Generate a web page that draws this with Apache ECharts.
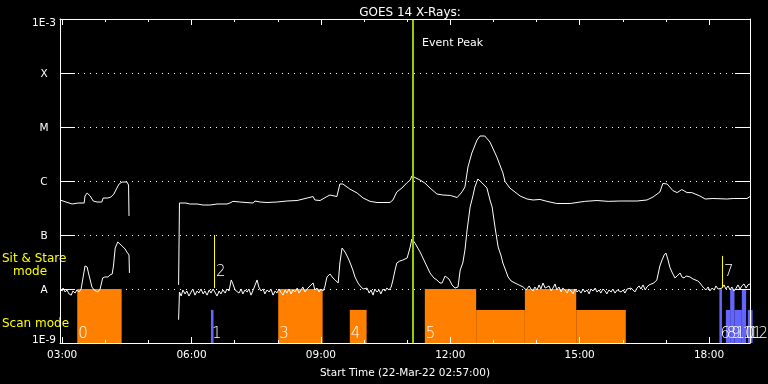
<!DOCTYPE html>
<html><head><meta charset="utf-8">
<script src="https://cdn.jsdelivr.net/npm/echarts@6/dist/echarts.min.js"></script>
<style>html,body{margin:0;padding:0;background:#000}#c{width:768px;height:384px}</style>
</head><body><div id="c"></div>
<script>
// Time axis in decimal hours of 22-Mar-22 (02:57 -> 18:57)
const T_START = 2.95, T_END = 18.95;
const Y_MIN = 1e-9, Y_MAX = 1e-3;
const majorHours = [3, 6, 9, 12, 15, 18];
const minorHours = [3,4,5,6,7,8,9,10,11,12,13,14,15,16,17,18];
const levelNames = {'-3':'1E-3','-4':'X','-5':'M','-6':'C','-7':'B','-8':'A','-9':'1E-9'};

// Long-wavelength channel [hour, flux W/m^2]; null = data gap
const longChannel = [
[2.95,4.45e-7],[3.09,4.08e-7],[3.23,3.75e-7],[3.37,3.91e-7],[3.51,3.91e-7],[3.53,5.27e-7],[3.58,5.99e-7],[3.65,5.27e-7],
[3.72,4.26e-7],[3.81,4.08e-7],[3.92,4.08e-7],[3.95,4.84e-7],[4.06,4.84e-7],[4.13,5.05e-7],[4.20,5.74e-7],[4.27,7.42e-7],
[4.32,8.80e-7],[4.39,9.58e-7],[4.50,9.58e-7],[4.54,8.43e-7],[4.55,2.25e-7],
[5.10,null],
[5.70,1.19e-8],[5.72,3.91e-7],[5.87,3.91e-7],[5.96,3.75e-7],[6.13,3.75e-7],[6.27,3.59e-7],[6.43,3.59e-7],[6.59,3.75e-7],
[6.82,3.75e-7],[6.89,3.91e-7],[6.96,4.2e-7],[7.12,4.08e-7],[7.43,3.91e-7],[7.47,4.26e-7],[7.59,4.08e-7],[7.75,4.0e-7],
[7.98,4.08e-7],[8.21,4.26e-7],[8.45,4.35e-7],[8.68,4.84e-7],[8.82,5.15e-7],[8.86,4.45e-7],[8.98,4.35e-7],[9.14,5.15e-7],
[9.21,5.5e-7],[9.37,5.15e-7],[9.44,8.8e-7],[9.51,8.8e-7],[9.67,7.1e-7],[9.84,5.99e-7],[9.98,4.84e-7],[10.14,4.2e-7],
[10.30,4.0e-7],[10.60,4.0e-7],[10.67,4.45e-7],[10.76,6.26e-7],[10.88,7.42e-7],[10.99,9.18e-7],[11.07,1.04e-6],[11.11,1.24e-6],
[11.30,1.04e-6],[11.41,9.18e-7],[11.53,7.42e-7],[11.69,5.74e-7],[11.83,5.5e-7],[12.00,5.4e-7],[12.16,4.95e-7],[12.27,6.26e-7],
[12.34,7.74e-7],[12.41,1.82e-6],[12.50,3.30e-6],[12.62,5.74e-6],[12.69,6.81e-6],[12.80,6.81e-6],[12.92,5.27e-6],[13.08,2.78e-6],
[13.22,1.41e-6],[13.27,9.8e-7],[13.38,7.42e-7],[13.62,5.27e-7],[13.78,4.64e-7],[13.92,4.45e-7],[14.08,4.55e-7],[14.24,4.2e-7],
[14.47,3.83e-7],[14.78,3.83e-7],[15.12,4.2e-7],[15.40,4.35e-7],[15.66,4.2e-7],[15.94,4.26e-7],[16.33,4.26e-7],[16.56,4.45e-7],
[16.70,5.05e-7],[16.86,6.26e-7],[16.93,9.0e-7],[17.03,8.8e-7],[17.16,6.65e-7],[17.26,6.1e-7],[17.37,6.95e-7],[17.49,6.1e-7],
[17.60,6.1e-7],[17.79,5.27e-7],[17.91,4.64e-7],[18.09,4.74e-7],[18.42,4.64e-7],[18.56,4.74e-7],[18.88,4.74e-7],[18.90,5.15e-7],
[18.95,5.15e-7]
];

// Short-wavelength channel [hour, flux W/m^2]; null = data gap
const shortChannel = [
[2.95,1.0e-8],[3.00,9.2e-9],[3.02,1.04e-8],[3.07,8.8e-9],[3.11,9.6e-9],[3.16,8.1e-9],[3.21,7.7e-9],[3.25,9.2e-9],[3.30,8.4e-9],
[3.34,9.6e-9],[3.39,8.8e-9],[3.44,1.0e-8],[3.48,9.6e-9],[3.53,2.67e-8],[3.58,2.55e-8],[3.61,1.98e-8],[3.65,1.47e-8],[3.69,1.09e-8],
[3.74,9.6e-9],[3.78,1.0e-8],[3.83,8.8e-9],[3.88,1.0e-8],[3.92,9.6e-9],[3.94,1.60e-8],[3.99,1.67e-8],[4.06,1.67e-8],[4.11,1.82e-8],
[4.16,1.90e-8],[4.19,2.67e-8],[4.23,5.74e-8],[4.29,7.42e-8],[4.34,6.81e-8],[4.39,6.26e-8],[4.46,5.50e-8],[4.50,4.84e-8],
[4.55,4.26e-8],[4.56,1.98e-8],
[5.10,null],
[5.70,2.7e-9],[5.72,8.8e-9],[5.76,7.4e-9],[5.80,9.6e-9],[5.85,8.1e-9],[5.89,9.2e-9],[5.94,7.4e-9],[5.99,8.8e-9],[6.03,1.0e-8],
[6.08,7.7e-9],[6.13,9.2e-9],[6.17,8.4e-9],[6.22,1.0e-8],[6.27,8.1e-9],[6.31,9.2e-9],[6.36,7.7e-9],[6.41,9.6e-9],[6.45,8.4e-9],
[6.50,1.0e-8],[6.54,8.8e-9],[6.59,7.4e-9],[6.64,9.2e-9],[6.68,8.1e-9],[6.73,9.6e-9],[6.78,8.4e-9],[6.82,1.0e-8],[6.87,9.2e-9],
[6.92,1.47e-8],[6.96,1.24e-8],[7.01,9.6e-9],[7.05,1.04e-8],[7.10,8.4e-9],[7.15,1.0e-8],[7.19,8.1e-9],[7.24,9.6e-9],[7.29,8.8e-9],
[7.33,1.0e-8],[7.38,7.7e-9],[7.43,9.6e-9],[7.47,9.2e-9],[7.52,1.47e-8],[7.56,1.09e-8],[7.61,9.2e-9],[7.66,1.0e-8],[7.70,8.1e-9],
[7.75,9.6e-9],[7.80,8.8e-9],[7.84,1.0e-8],[7.89,7.7e-9],[7.94,9.2e-9],[7.98,8.4e-9],[8.03,1.0e-8],[8.07,8.8e-9],[8.12,7.7e-9],
[8.17,9.6e-9],[8.21,8.4e-9],[8.26,1.0e-8],[8.31,8.1e-9],[8.35,9.6e-9],[8.40,8.8e-9],[8.45,1.04e-8],[8.49,8.4e-9],[8.54,9.6e-9],
[8.58,1.09e-8],[8.63,8.8e-9],[8.68,1.0e-8],[8.72,9.2e-9],[8.77,1.19e-8],[8.82,1.29e-8],[8.86,9.6e-9],[8.91,1.04e-8],[8.96,8.8e-9],
[9.00,1.0e-8],[9.05,9.2e-9],[9.09,1.09e-8],[9.14,1.67e-8],[9.21,1.90e-8],[9.28,1.60e-8],[9.33,1.47e-8],[9.40,1.29e-8],[9.44,3.03e-8],
[9.49,5.74e-8],[9.56,4.84e-8],[9.63,3.75e-8],[9.67,3.16e-8],[9.74,2.25e-8],[9.79,1.67e-8],[9.86,1.29e-8],[9.91,1.14e-8],[9.98,1.0e-8],
[10.02,9.2e-9],[10.07,1.04e-8],[10.12,8.4e-9],[10.16,9.6e-9],[10.21,7.7e-9],[10.25,1.0e-8],[10.30,8.8e-9],[10.35,9.6e-9],[10.39,8.1e-9],
[10.44,1.0e-8],[10.49,9.2e-9],[10.53,1.04e-8],[10.58,9.6e-9],[10.63,1.09e-8],[10.67,1.47e-8],[10.72,2.25e-8],[10.76,3.03e-8],
[10.83,3.30e-8],[10.90,3.44e-8],[11.00,3.75e-8],[11.07,5.99e-8],[11.11,8.43e-8],[11.18,7.10e-8],[11.30,4.84e-8],[11.41,3.16e-8],
[11.53,1.98e-8],[11.62,1.60e-8],[11.69,1.47e-8],[11.76,1.29e-8],[11.81,1.29e-8],[11.88,1.74e-8],[11.92,1.67e-8],[11.97,1.53e-8],
[12.04,1.19e-8],[12.11,1.04e-8],[12.18,1.09e-8],[12.23,2.25e-8],[12.29,3.03e-8],[12.34,5.27e-8],[12.39,1.24e-7],[12.46,3.30e-7],
[12.53,5.50e-7],[12.57,7.74e-7],[12.64,1.09e-6],[12.74,9.18e-7],[12.85,7.42e-7],[12.92,4.45e-7],[12.97,3.30e-7],[13.04,1.35e-7],
[13.11,5.99e-8],[13.18,4.08e-8],[13.22,3.03e-8],[13.29,2.15e-8],[13.34,1.67e-8],[13.41,1.41e-8],[13.50,1.29e-8],[13.59,1.19e-8],
[13.69,1.09e-8],[13.76,9.6e-9],[13.83,1.14e-8],[13.87,1.0e-8],[13.92,9.2e-9],[13.96,1.09e-8],[14.01,9.6e-9],[14.06,1.19e-8],
[14.10,1.0e-8],[14.15,1.29e-8],[14.20,1.04e-8],[14.24,9.6e-9],[14.29,1.14e-8],[14.34,9.2e-9],[14.38,1.04e-8],[14.43,1.24e-8],
[14.47,9.6e-9],[14.52,1.09e-8],[14.57,8.8e-9],[14.61,1.04e-8],[14.66,9.6e-9],[14.71,8.4e-9],[14.75,1.0e-8],[14.80,9.2e-9],
[14.85,8.1e-9],[14.89,1.0e-8],[14.94,8.8e-9],[14.98,9.6e-9],[15.03,8.4e-9],[15.08,1.0e-8],[15.12,8.8e-9],[15.17,9.6e-9],
[15.22,8.1e-9],[15.26,1.0e-8],[15.31,9.2e-9],[15.36,1.04e-8],[15.40,8.8e-9],[15.45,9.6e-9],[15.49,8.4e-9],[15.54,1.0e-8],
[15.59,9.2e-9],[15.63,8.1e-9],[15.68,9.6e-9],[15.73,8.8e-9],[15.77,1.0e-8],[15.82,8.4e-9],[15.87,9.6e-9],[15.91,1.04e-8],
[15.96,8.8e-9],[16.01,9.6e-9],[16.05,8.4e-9],[16.10,1.0e-8],[16.14,9.2e-9],[16.19,1.04e-8],[16.24,9.6e-9],[16.28,8.8e-9],
[16.33,1.04e-8],[16.38,1.14e-8],[16.42,1.0e-8],[16.47,1.19e-8],[16.52,9.6e-9],[16.56,1.09e-8],[16.61,1.19e-8],[16.65,1.29e-8],
[16.72,1.29e-8],[16.79,1.47e-8],[16.86,2.67e-8],[16.91,3.44e-8],[16.96,4.26e-8],[17.00,4.64e-8],[17.05,3.44e-8],[17.09,2.55e-8],
[17.14,2.06e-8],[17.21,1.60e-8],[17.26,1.74e-8],[17.33,1.98e-8],[17.37,1.67e-8],[17.42,1.60e-8],[17.47,1.74e-8],[17.51,1.82e-8],
[17.56,1.67e-8],[17.63,1.53e-8],[17.67,1.60e-8],[17.74,1.41e-8],[17.79,1.29e-8],[17.84,1.14e-8],[17.88,1.04e-8],[17.93,9.6e-9],
[17.98,1.09e-8],[18.02,9.2e-9],[18.07,1.04e-8],[18.12,9.6e-9],[18.16,1.14e-8],[18.21,1.0e-8],[18.25,9.2e-9],[18.30,1.04e-8],
[18.35,1.19e-8],[18.39,1.0e-8],[18.44,1.14e-8],[18.49,9.6e-9],[18.53,1.09e-8],[18.58,9.2e-9],[18.63,1.04e-8],[18.67,1.19e-8],
[18.72,1.0e-8],[18.76,1.14e-8],[18.81,1.24e-8],[18.86,1.04e-8],[18.90,1.19e-8],[18.95,1.24e-8]
];

// Observation blocks (start hour, end hour, top level) and their labels
const barStart = [3.35, 6.45, 8.01, 9.67, 11.41, 12.60, 13.73, 14.92, 18.24, 18.39, 18.49, 18.59, 18.76, 18.90];
const barEnd   = [4.38, 6.51, 9.04, 10.06, 12.60, 13.73, 14.92, 16.07, 18.30, 18.49, 18.59, 18.76, 18.86, 19.01];
const barTop   = [1e-8, 4.1e-9, 1e-8, 4.1e-9, 1e-8, 4.1e-9, 1e-8, 4.1e-9, 1e-8, 4.1e-9, 1e-8, 4.1e-9, 1e-8, 4.1e-9];
const barKind  = ['o','b','o','o','o','o','o','o','b','b','b','b','b','b'];
const barLabel = ['0','1','3','4','5','','','','6','8','9','10','11','12'];

// Yellow markers (hour, top level, bottom level, label)
const markTime   = [6.53, 18.31];
const markTop    = [1e-7, 4.1e-8];
const markBottom = [1.04e-8, 1.04e-8];
const markLabel  = ['2', '7'];

const eventTime = 11.11;

const FONT = 'DejaVu Sans';
const KIND_COLOR = {o: '#ff8000', b: '#6464ff'};
const fmtHour = v => (v < 10 ? '0' : '') + v + ':00';

const chart = echarts.init(document.getElementById('c'), null, {renderer: 'canvas'});

function xAx(pos, ticks, len, withLine, withLabel) {
  return {
    type: 'value', position: pos, min: T_START, max: T_END, z: 10,
    axisLine: {show: withLine, lineStyle: {color: '#fff', width: 1}},
    axisTick: {show: true, inside: true, length: len, customValues: ticks, lineStyle: {color: '#fff', width: 1}},
    axisLabel: withLabel ? {show: true, customValues: majorHours, formatter: fmtHour, color: '#fff',
      fontFamily: FONT, fontSize: 10.5, margin: 7} : {show: false},
    splitLine: {show: false},
    name: withLabel ? 'Start Time (22-Mar-22 02:57:00)' : '',
    nameLocation: 'middle', nameGap: 25,
    nameTextStyle: {color: '#fff', fontFamily: FONT, fontSize: 10.5}
  };
}

const option = {
  backgroundColor: '#000',
  animation: false,
  title: {text: 'GOES 14 X-Rays:', left: 405, top: 2, textAlign: 'center',
    textStyle: {color: '#fff', fontFamily: FONT, fontSize: 12, fontWeight: 'normal'}},
  grid: {left: 60, right: 18, top: 19, bottom: 41},
  xAxis: [
    xAx('bottom', majorHours, 6, true, true),
    xAx('bottom', minorHours, 3, false, false),
    xAx('top', majorHours, 6, true, false),
    xAx('top', minorHours, 3, false, false)
  ],
  yAxis: [
    {type: 'log', logBase: 10, min: Y_MIN, max: Y_MAX, position: 'left',
     axisLine: {show: true, lineStyle: {color: '#fff'}},
     axisTick: {show: true, inside: true, length: 15, lineStyle: {color: '#fff'}},
     axisLabel: {color: '#fff', fontFamily: FONT, fontSize: 10.5, align: 'center', margin: 16,
       formatter: v => {
         const e = Math.round(Math.log10(v));
         const n = levelNames[e];
         return e === -3 ? '{t|' + n + '}' : (e === -9 ? '{b|' + n + '}' : '{m|' + n + '}');
       },
       rich: {
         t: {padding: [8, 0, 0, 0], color: '#fff', fontFamily: FONT, fontSize: 10.5},
         b: {padding: [0, 0, 6, 0], color: '#fff', fontFamily: FONT, fontSize: 10.5},
         m: {padding: [2, 0, 0, 0], color: '#fff', fontFamily: FONT, fontSize: 10.5}
       }},
     splitLine: {show: true, lineStyle: {color: '#fff', width: 1, type: [1, 5]}},
     minorTick: {show: false}},
    {type: 'log', logBase: 10, min: Y_MIN, max: Y_MAX, position: 'right', z: 10,
     axisLine: {show: true, lineStyle: {color: '#fff'}},
     axisTick: {show: true, inside: true, length: 15, lineStyle: {color: '#fff'}},
     axisLabel: {show: false}, splitLine: {show: false}}
  ],
  graphic: [
    {type: 'text', x: 2, y: 258.5, style: {text: 'Sit & Stare', fill: '#ffff00', font: '12px "DejaVu Sans"', verticalAlign: 'middle'}},
    {type: 'text', x: 13, y: 271.5, style: {text: 'mode', fill: '#ffff00', font: '12px "DejaVu Sans"', verticalAlign: 'middle'}},
    {type: 'text', x: 2, y: 324, style: {text: 'Scan mode', fill: '#ffff00', font: '12px "DejaVu Sans"', verticalAlign: 'middle'}}
  ],
  series: [
    {
      type: 'custom', name: 'blocks', xAxisIndex: 0, yAxisIndex: 0, z: 1, clip: false,
      data: barStart.map((s, i) => [s, barEnd[i], barTop[i]]),
      encode: {x: [0, 1], y: 2},
      renderItem: (params, api) => {
        const i = params.dataIndex;
        const p0 = api.coord([api.value(0), api.value(2)]);
        const p1 = api.coord([api.value(1), Y_MIN]);
        const ch = [{type: 'rect', shape: {x: p0[0], y: p0[1], width: p1[0] - p0[0], height: p1[1] - p0[1]},
          style: {fill: KIND_COLOR[barKind[i]]}}];
        if (barLabel[i]) ch.push({type: 'text', z2: 20, x: p0[0] + 1, y: p1[1] - 1,
          style: {text: barLabel[i], fill: '#fff', font: '300 15px "DejaVu Sans"', verticalAlign: 'bottom'}});
        return {type: 'group', children: ch};
      }
    },
    {
      type: 'line', name: 'long', xAxisIndex: 0, yAxisIndex: 0, z: 3,
      data: longChannel, showSymbol: false, connectNulls: false,
      lineStyle: {color: '#fff', width: 1}, itemStyle: {color: '#fff'}
    },
    {
      type: 'line', name: 'short', xAxisIndex: 0, yAxisIndex: 0, z: 3,
      data: shortChannel, showSymbol: false, connectNulls: false,
      lineStyle: {color: '#fff', width: 1}, itemStyle: {color: '#fff'}
    },
    {
      type: 'custom', name: 'marks', xAxisIndex: 0, yAxisIndex: 0, z: 4, clip: false,
      data: markTime.map((t, i) => [t, markTop[i], markBottom[i]]),
      encode: {x: 0, y: [1, 2]},
      renderItem: (params, api) => {
        const i = params.dataIndex;
        const a = api.coord([api.value(0), api.value(1)]);
        const b = api.coord([api.value(0), api.value(2)]);
        const x = Math.round(a[0]) + 0.5;
        return {type: 'group', children: [
          {type: 'line', shape: {x1: x, y1: a[1], x2: x, y2: b[1]}, style: {stroke: '#ffff00', lineWidth: 1}},
          {type: 'text', x: x + 1.5, y: b[1] - 16, style: {text: markLabel[i], fill: '#fff',
            font: '300 15px "DejaVu Sans"', verticalAlign: 'middle'}}
        ]};
      }
    },
    {
      type: 'custom', name: 'event', xAxisIndex: 0, yAxisIndex: 0, z: 5, clip: false,
      data: [[eventTime, Y_MIN, Y_MAX]],
      encode: {x: 0, y: [1, 2]},
      renderItem: (params, api) => {
        const a = api.coord([api.value(0), api.value(2)]);
        const b = api.coord([api.value(0), api.value(1)]);
        const x = Math.round(a[0]) + 1;
        return {type: 'group', children: [
          {type: 'line', shape: {x1: x, y1: a[1], x2: x, y2: b[1]}, style: {stroke: '#99cc00', lineWidth: 2}},
          {type: 'text', x: x + 9, y: a[1] + 24, style: {text: 'Event Peak', fill: '#fff',
            font: '11px "DejaVu Sans"', verticalAlign: 'middle'}}
        ]};
      }
    }
  ]
};
chart.setOption(option);
</script></body></html>
